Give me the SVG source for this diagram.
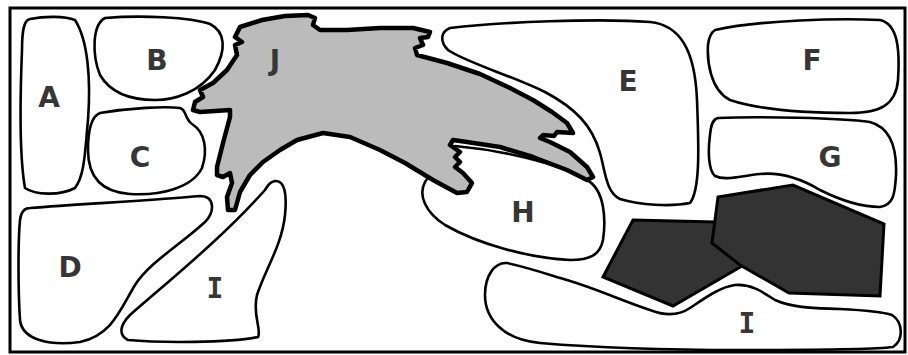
<svg xmlns="http://www.w3.org/2000/svg" width="908" height="355" viewBox="0 0 908 355">
<style>
.r{fill:#fff;stroke:#000;stroke-width:2.6;stroke-linejoin:round}
.j{fill:#bbbbbb;stroke:#000;stroke-width:4.5;stroke-linejoin:round}
.k{fill:#333;stroke:#000;stroke-width:3;stroke-linejoin:miter}
.t{font-family:"DejaVu Sans",Verdana,sans-serif;font-weight:bold;font-size:28px;fill:#363636;text-anchor:middle}
.i{font-family:"DejaVu Sans Mono",monospace}
</style>
<rect x="0" y="0" width="908" height="355" fill="#fff"/>
<rect id="frame" x="10" y="8" width="895" height="344" fill="none" stroke="#000" stroke-width="3"/>
<g id="A"><path class="r" d="M30,19 C45,16 65,16 75,20 C88,40 91,80 88,120 C85,150 85,175 75,188 C60,196 35,195 25,188 C20,160 20,100 22,50 C22,30 24,20 30,19 Z"/><text class="t" x="49" y="107">A</text></g>
<g id="B"><path class="r" d="M105,18 C140,15 190,17 210,24 C226,32 226,50 215,70 C200,92 175,100 155,100 C130,100 110,92 100,75 C92,55 92,25 105,18 Z"/><text class="t" x="157" y="70">B</text></g>
<g id="C"><path class="r" d="M100,113 C130,108 165,106 180,108 C187,110 184,118 192,124 C205,132 208,150 202,168 C192,188 160,196 130,194 C100,192 88,175 88,150 C88,130 92,116 100,113 Z"/><text class="t" x="140" y="167">C</text></g>
<g id="D"><path class="r" d="M30,208 C80,204 160,200 200,196 C215,196 215,212 205,222 C180,245 150,262 135,285 C120,310 112,335 80,342 C50,346 22,340 20,320 C18,290 18,240 20,220 C21,212 24,208 30,208 Z"/><text class="t" x="70" y="277">D</text></g>
<g id="I1"><path class="r" d="M275,181 C285,180 287,195 285,215 C282,245 265,270 257,295 C252,315 262,330 258,337 C230,343 160,343 128,340 C118,335 120,325 130,315 C170,280 220,240 265,190 C268,185 270,182 275,181 Z"/><text class="t i" x="215" y="298">I</text></g>
<g id="E"><path class="r" d="M450,28 C500,22 600,18 650,22 C680,25 695,50 697,100 C699,150 700,190 690,203 C670,207 640,205 620,199 C606,193 605,170 600,153 C592,125 575,108 545,92 C510,75 465,62 448,50 C440,42 440,32 450,28 Z"/><text class="t" x="628" y="91">E</text></g>
<g id="F"><path class="r" d="M715,30 C760,20 840,18 880,20 C898,24 900,50 898,80 C896,105 880,113 850,113 C800,113 760,110 730,100 C710,90 707,60 708,45 C709,36 712,32 715,30 Z"/><text class="t" x="812" y="70">F</text></g>
<g id="G"><path class="r" d="M718,118 C760,116 840,118 870,122 C892,128 897,150 896,175 C895,195 893,205 880,207 C860,207 840,200 820,190 C800,178 780,172 760,174 C740,176 725,181 715,176 C708,170 708,150 710,135 C711,124 713,119 718,118 Z"/><text class="t" x="830" y="167">G</text></g>
<g id="H"><path class="r" d="M455,146 C500,150 555,162 587,180 C605,190 606,220 603,240 C600,255 590,260 570,260 C530,258 480,245 445,225 C425,212 418,195 425,182 C432,172 440,158 455,146 Z"/><text class="t" x="523" y="222">H</text></g>
<g id="I2"><path class="r" d="M507,263 C530,268 550,275 567,280 C600,290 620,300 650,310 C665,316 678,316 690,308 C705,298 720,287 735,285 C750,284 760,290 775,300 C795,309 820,308 840,309 C860,310 880,311 892,315 C903,322 904,340 893,347 C870,350 800,350 740,350 C680,350 600,348 540,343 C505,340 485,320 485,295 C485,275 495,262 507,263 Z"/><text class="t i" x="747" y="333">I</text></g>
<g id="K1"><polygon class="k" points="633,220 715,222 742,266 673,306 603,277"/></g>
<g id="K2"><polygon class="k" points="718,197 793,185 884,224 880,296 789,293 740,265 712,243"/></g>
<g id="J"><path class="j" d="M240,27 L262,20 L285,16 L308,15 L315,18 L313,25 L320,30 L347,30 L380,28 L413,28 L430,32 L428,37 L420,38 L423,45 L415,48 L417,55 L447,63 L480,74 L510,88 L533,100 L552,112 L567,123 L573,133 L557,132 L554,136 L543,135 L540,138 L550,142 L570,152 L587,167 L593,177 L587,180 L567,170 L533,157 L500,147 L467,142 L453,140 L450,145 L460,152 L455,157 L460,162 L455,167 L463,173 L472,183 L467,192 L457,193 L433,180 L405,163 L380,150 L350,137 L323,133 L297,140 L280,150 L263,162 L250,175 L240,192 L235,210 L228,210 L227,197 L232,183 L230,173 L223,177 L217,175 L217,167 L223,143 L230,117 L230,110 L200,112 L193,110 L195,102 L203,97 L200,90 L213,83 L227,70 L237,55 L235,45 L242,42 L235,37 Z"/><text class="t" x="275" y="70">J</text></g>
</svg>
